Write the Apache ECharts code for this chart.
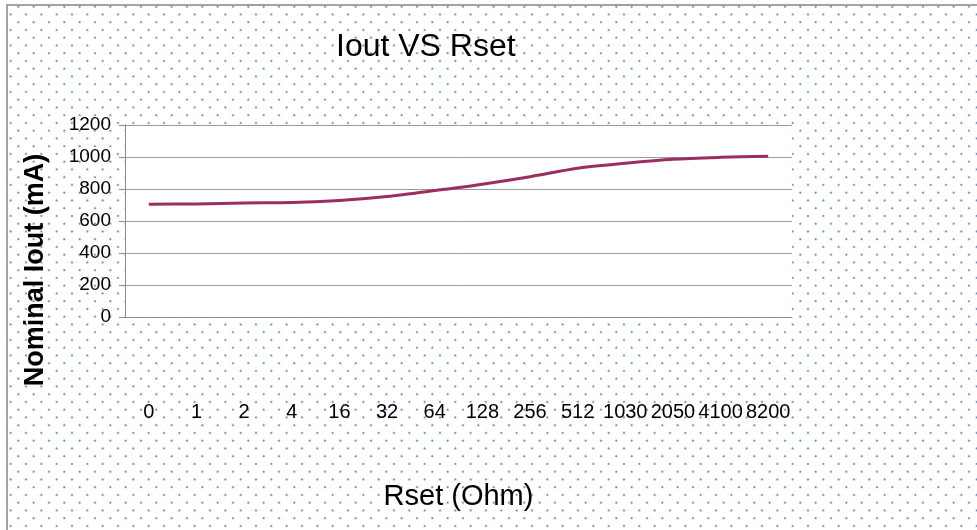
<!DOCTYPE html>
<html>
<head>
<meta charset="utf-8">
<title>Iout VS Rset</title>
<script src="https://cdn.jsdelivr.net/npm/echarts@6/dist/echarts.min.js"></script>
<style>
  html, body { margin: 0; padding: 0; background: #fff; }
  #chart { width: 977px; height: 530px; }
</style>
</head>
<body>
<div id="chart"></div>
<script>
// data
var rset = ['0', '1', '2', '4', '16', '32', '64', '128', '256', '512', '1030', '2050', '4100', '8200']
var iout = [705, 707, 713, 715, 728, 753, 790, 830, 877, 930, 961, 986, 998, 1005]
var yMin = 0
var yMax = 1200
var yStep = 200

// dotted paper background tile (staggered blue dots)
function makeDots() {
  var c = document.createElement('canvas')
  var w = 92
  var h = 93
  c.width = w
  c.height = h
  var ctx = c.getContext('2d')
  var dx = w / 6
  var dy = h / 12
  for (var r = 0; r < 12; r++) {
    for (var k = 0; k < 6; k++) {
      var x = (3 + k * dx + (r % 2 ? dx / 2 : 0)) % w
      var y = (6.7 + r * dy) % h
      ctx.fillStyle = 'rgba(160,190,230,0.4)'
      ctx.beginPath()
      ctx.arc(x, y, 1.6, 0, Math.PI * 2)
      ctx.fill()
      ctx.fillStyle = 'rgba(80,128,200,0.85)'
      ctx.beginPath()
      ctx.arc(x, y, 0.9, 0, Math.PI * 2)
      ctx.fill()
    }
  }
  return c
}

var chart = echarts.init(document.getElementById('chart'))

chart.setOption({
  backgroundColor: '#fff',
  animation: false,
  title: {
    text: 'Iout VS Rset',
    left: 331,
    top: 26,
    textStyle: {
      fontFamily: 'Liberation Sans',
      fontSize: 32,
      fontWeight: 'normal',
      color: '#000'
    }
  },
  graphic: [
    {
      type: 'rect',
      z: -10,
      silent: true,
      shape: { x: 7, y: 5, width: 990, height: 540 },
      style: {
        fill: { image: makeDots(), repeat: 'repeat' },
        stroke: '#858585',
        lineWidth: 1.5
      }
    },
    {
      type: 'text',
      x: 36,
      y: 270,
      rotation: Math.PI / 2,
      style: {
        text: 'Nominal Iout (mA)',
        fontFamily: 'Liberation Sans',
        fontSize: 27,
        fontWeight: 'bold',
        fill: '#000',
        align: 'center',
        verticalAlign: 'middle'
      }
    }
  ],
  grid: {
    left: 125,
    right: 185,
    top: 125,
    bottom: 213,
    show: true,
    backgroundColor: '#fff',
    borderWidth: 0
  },
  xAxis: {
    type: 'category',
    data: rset,
    boundaryGap: true,
    name: 'Rset (Ohm)',
    nameLocation: 'middle',
    nameGap: 165,
    nameTextStyle: {
      fontFamily: 'Liberation Sans',
      fontSize: 29,
      color: '#000'
    },
    axisLine: { lineStyle: { color: '#8c8c8c', width: 1 } },
    axisTick: { show: false },
    axisLabel: {
      interval: 0,
      margin: 85,
      fontFamily: 'Liberation Sans',
      fontSize: 20,
      color: '#000'
    }
  },
  yAxis: {
    type: 'value',
    min: yMin,
    max: yMax,
    interval: yStep,
    axisLine: { show: true, lineStyle: { color: '#8c8c8c', width: 1 } },
    axisTick: { show: true, length: 6, lineStyle: { color: '#8c8c8c' } },
    axisLabel: {
      margin: 14,
      fontFamily: 'Liberation Sans',
      fontSize: 19,
      color: '#000',
      formatter: function (v) { return String(v) }
    },
    splitLine: { lineStyle: { color: '#9c9c9c', width: 1 } }
  },
  series: [{
    name: 'Nominal Iout',
    type: 'line',
    data: iout,
    smooth: 0.3,
    showSymbol: false,
    lineStyle: { color: '#9a2e60', width: 3 }
  }]
})
</script>
</body>
</html>
